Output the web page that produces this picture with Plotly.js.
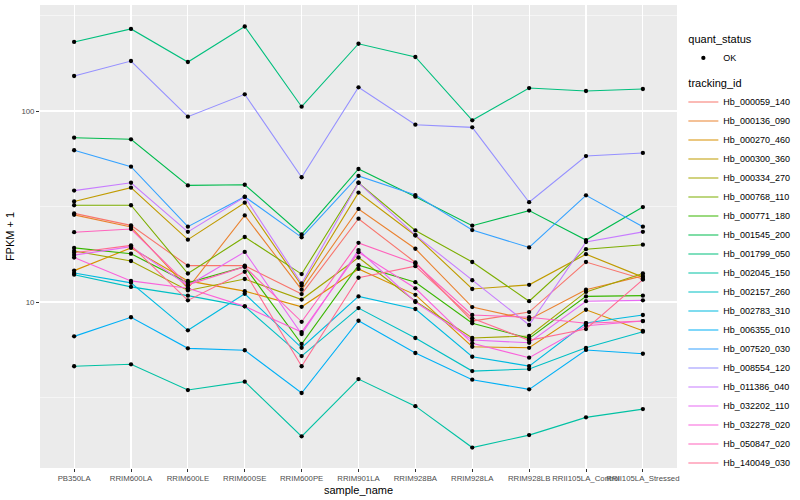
<!DOCTYPE html>
<html>
<head>
<meta charset="utf-8">
<script src="https://cdn.plot.ly/plotly-3.0.1.min.js"></script>
<style>
  html, body { margin: 0; padding: 0; background: #ffffff; }
  #chart { width: 800px; height: 500px; }
</style>
</head>
<body>
<div id="chart"></div>
<script>
// ---- data (FPKM + 1) ----
const sampleNames = ["PB350LA", "RRIM600LA", "RRIM600LE", "RRIM600SE", "RRIM600PE",
  "RRIM901LA", "RRIM928BA", "RRIM928LA", "RRIM928LB", "RRII105LA_Control", "RRII105LA_Stressed"];

const trackingIds = ["Hb_000059_140", "Hb_000136_090", "Hb_000270_460", "Hb_000300_360",
  "Hb_000334_270", "Hb_000768_110", "Hb_000771_180", "Hb_001545_200", "Hb_001799_050",
  "Hb_002045_150", "Hb_002157_260", "Hb_002783_310", "Hb_006355_010", "Hb_007520_030",
  "Hb_008554_120", "Hb_011386_040", "Hb_032202_110", "Hb_032278_020", "Hb_050847_020",
  "Hb_140049_030"];

const hb_000059_140 = [29.1, 25.2, 15.5, 15.5, 11.0, 27.3, 16.1, 7.95, 8.86, 16.2, 13.2];
const hb_000136_090 = [28.6, 24.7, 11.8, 28.4, 11.6, 30.7, 19.0, 9.41, 8.10, 11.6, 13.7];
const hb_000270_460 = [14.6, 19.2, 12.9, 11.4, 9.44, 14.9, 10.9, 5.83, 5.76, 9.11, 7.07];
const hb_000300_360 = [33.6, 39.7, 21.2, 33.1, 12.2, 37.4, 22.3, 11.7, 12.3, 17.8, 13.5];
const hb_000334_270 = [18.5, 16.4, 11.5, 13.2, 10.3, 17.1, 10.1, 6.48, 6.64, 11.3, 14.1];
const hb_000768_110 = [32.1, 32.1, 14.1, 21.9, 14.0, 42.1, 23.7, 16.2, 10.1, 18.9, 19.95];
const hb_000771_180 = [19.2, 17.9, 12.6, 15.3, 6.03, 15.6, 12.7, 7.74, 6.45, 10.7, 10.8];
const hb_001545_200 = [72.5, 71.1, 40.8, 41.1, 22.6, 49.7, 35.6, 25.1, 30.1, 21.1, 31.4];
const hb_001799_050 = [230, 269, 180.5, 277, 105.3, 225, 191.8, 89.4, 131.9, 127.3, 130.4];
const hb_002045_150 = [4.61, 4.72, 3.46, 3.83, 1.98, 3.95, 2.85, 1.73, 2.01, 2.49, 2.75];
const hb_002157_260 = [13.9, 12.0, 10.8, 9.49, 5.21, 9.30, 6.48, 4.35, 4.46, 5.76, 6.99];
const hb_002783_310 = [14.2, 12.6, 7.11, 11.05, 5.76, 10.7, 9.19, 5.17, 4.62, 7.76, 8.55];
const hb_006355_010 = [6.61, 8.32, 5.72, 5.59, 3.34, 7.98, 5.41, 3.92, 3.49, 5.61, 5.36];
const hb_007520_030 = [62.3, 51.1, 24.8, 35.6, 21.8, 45.7, 36.3, 23.8, 19.3, 36.2, 24.8];
const hb_008554_120 = [152.5, 182.7, 93.4, 122.3, 45.0, 133.1, 84.8, 82.1, 33.3, 58.1, 60.3];
const hb_011386_040 = [38.3, 42.1, 23.3, 35.5, 12.5, 42.1, 22.4, 13.0, 7.58, 20.6, 23.3];
const hb_032202_110 = [17.6, 19.5, 12.2, 18.3, 6.80, 18.7, 10.0, 6.32, 6.12, 10.1, 10.2];
const hb_032278_020 = [17.1, 12.9, 11.8, 9.49, 6.96, 18.2, 11.8, 6.08, 5.11, 7.51, 7.95];
const hb_050847_020 = [23.2, 24.1, 12.3, 15.3, 7.88, 20.4, 15.9, 8.55, 8.32, 7.74, 7.95];
const hb_140049_030 = [18.1, 19.8, 10.2, 14.4, 4.61, 13.4, 15.4, 8.22, 6.30, 7.22, 13.1];

const seriesValues = [hb_000059_140, hb_000136_090, hb_000270_460, hb_000300_360,
  hb_000334_270, hb_000768_110, hb_000771_180, hb_001545_200, hb_001799_050,
  hb_002045_150, hb_002157_260, hb_002783_310, hb_006355_010, hb_007520_030,
  hb_008554_120, hb_011386_040, hb_032202_110, hb_032278_020, hb_050847_020,
  hb_140049_030];

const quantStatus = "OK";
const yTickVals = [10, 100];
const yTickText = ["10", "100"];
const yMinorVals = [3.1623, 31.623, 316.23];

// ---- styles ----
const lineColors = ["#F8766D", "#EA8331", "#D89000", "#C09B00", "#A3A500", "#7CAE00",
  "#39B600", "#00BB4E", "#00BF7D", "#00C1A3", "#00BFC4", "#00BAE0", "#00B0F6",
  "#35A2FF", "#9590FF", "#C77CFF", "#E76BF3", "#FA62DB", "#FF62BC", "#FF6C91"];
const FONT = "Liberation Sans, Arial, Helvetica, sans-serif";

const traces = [];
trackingIds.forEach((id, i) => {
  traces.push({
    type: "scatter",
    mode: "lines",
    x: sampleNames,
    y: seriesValues[i],
    name: id,
    line: { color: lineColors[i], width: 1.1 },
    legendgroup: "tracking_id",
    legendgrouptitle: i === 0 ? { text: "tracking_id", font: { size: 11, color: "#000", family: FONT } } : undefined,
    legendrank: 10 + i,
    hoverinfo: "skip"
  });
});

// all points, black, drawn on top
const px = [], py = [];
seriesValues.forEach(vals => {
  vals.forEach((v, j) => { px.push(sampleNames[j]); py.push(v); });
});
traces.push({
  type: "scatter",
  mode: "markers",
  x: px,
  y: py,
  name: quantStatus,
  marker: { color: "#000000", size: 4.3, symbol: "circle" },
  legendgroup: "quant_status",
  legendgrouptitle: { text: "quant_status", font: { size: 11, color: "#000", family: FONT } },
  legendrank: 1,
  hoverinfo: "skip"
});

const layout = {
  width: 800,
  height: 500,
  margin: { l: 40, r: 116, t: 5, b: 32 },
  paper_bgcolor: "#ffffff",
  plot_bgcolor: "#EBEBEB",
  font: { family: FONT, size: 9, color: "#000" },
  showlegend: true,
  legend: {
    x: 1.01, xanchor: "left",
    y: 0.958, yanchor: "top",
    traceorder: "grouped",
    tracegroupgap: 6,
    font: { size: 9, color: "#000", family: FONT },
    bgcolor: "rgba(0,0,0,0)",
    itemwidth: 30
  },
  xaxis: {
    type: "category",
    categoryorder: "array",
    categoryarray: sampleNames,
    range: [-0.6, sampleNames.length - 0.4],
    tickangle: 0,
    tickfont: { size: 7.8, color: "#4D4D4D", family: FONT },
    ticks: "outside", ticklen: 3, tickcolor: "#333333", tickwidth: 1,
    showgrid: true, gridcolor: "#FFFFFF", gridwidth: 1.1,
    zeroline: false, showline: false,
    automargin: false,
    title: { text: "sample_name", font: { size: 11, color: "#000", family: FONT }, standoff: 3 }
  },
  yaxis: {
    type: "log",
    range: [0.131, 2.555],
    tickvals: yTickVals,
    ticktext: yTickText,
    tickfont: { size: 7.8, color: "#4D4D4D", family: FONT },
    ticks: "outside", ticklen: 3, tickcolor: "#333333", tickwidth: 1,
    showgrid: true, gridcolor: "#FFFFFF", gridwidth: 1.1,
    minor: { tickmode: "array", tickvals: yMinorVals, showgrid: true, gridcolor: "#FFFFFF", gridwidth: 0.5, ticks: "" },
    zeroline: false, showline: false,
    automargin: false,
    title: { text: "FPKM + 1", font: { size: 11, color: "#000", family: FONT }, standoff: 4 }
  }
};

Plotly.newPlot("chart", traces, layout, { displayModeBar: false, staticPlot: true });
</script>
</body>
</html>
